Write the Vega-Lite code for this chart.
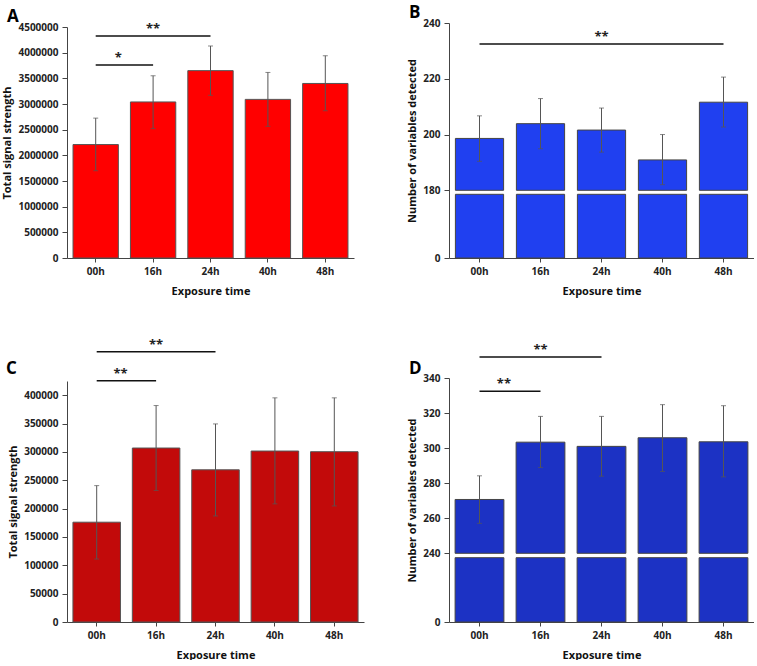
{
  "$schema": "https://vega.github.io/schema/vega-lite/v6.json",
  "padding": {"left": 1, "top": 4, "right": 0, "bottom": 0},
  "background": "white",
  "datasets": {
    "a": [
      {"t": "00h", "v": 2210000, "lo": 1700000, "hi": 2725000},
      {"t": "16h", "v": 3040000, "lo": 2520000, "hi": 3550000},
      {"t": "24h", "v": 3650000, "lo": 3170000, "hi": 4130000},
      {"t": "40h", "v": 3090000, "lo": 2565000, "hi": 3615000},
      {"t": "48h", "v": 3400000, "lo": 2870000, "hi": 3940000}
    ],
    "sa": [
      {"x1": "00h", "x2": "16h", "y": 3760000, "s": "*", "edge": "00h"},
      {"x1": "00h", "x2": "24h", "y": 4325000, "s": "**", "mid": "16h"}
    ],
    "b": [
      {"t": "00h", "v": 198.6, "lo": 190.4, "hi": 206.7},
      {"t": "16h", "v": 203.9, "lo": 194.9, "hi": 212.9},
      {"t": "24h", "v": 201.6, "lo": 193.7, "hi": 209.5},
      {"t": "40h", "v": 190.9, "lo": 182.0, "hi": 200.0},
      {"t": "48h", "v": 211.6, "lo": 202.7, "hi": 220.6}
    ],
    "sb": [
      {"x1": "00h", "x2": "48h", "y": 232.5, "s": "**", "mid": "24h"}
    ],
    "c": [
      {"t": "00h", "v": 176000, "lo": 111000, "hi": 240500},
      {"t": "16h", "v": 306800, "lo": 232000, "hi": 381700},
      {"t": "24h", "v": 268400, "lo": 187000, "hi": 349300},
      {"t": "40h", "v": 301500, "lo": 208300, "hi": 395300},
      {"t": "48h", "v": 300300, "lo": 204700, "hi": 395300}
    ],
    "sc": [
      {"x1": "00h", "x2": "16h", "y": 425400, "s": "**", "edge": "00h"},
      {"x1": "00h", "x2": "24h", "y": 476700, "s": "**", "mid": "16h"}
    ],
    "d": [
      {"t": "00h", "v": 270.7, "lo": 257.1, "hi": 284.2},
      {"t": "16h", "v": 303.4, "lo": 289.0, "hi": 318.1},
      {"t": "24h", "v": 301.0, "lo": 284.0, "hi": 318.1},
      {"t": "40h", "v": 305.9, "lo": 286.7, "hi": 324.8},
      {"t": "48h", "v": 303.6, "lo": 283.6, "hi": 324.2}
    ],
    "sd": [
      {"x1": "00h", "x2": "16h", "y": 332.4, "s": "**", "edge": "00h"},
      {"x1": "00h", "x2": "24h", "y": 352, "s": "**", "mid": "16h"}
    ]
  },
  "columns": 2,
  "bounds": "flush",
  "spacing": {"row": 120, "column": 85},
  "concat": [
    {
      "width": 287, "height": 235,
      "title": {"text": "A", "dx": -60, "dy": 8},
      "layer": [
        {
          "data": {"name": "a"},
          "mark": {"type": "bar", "fill": "#ff0000", "stroke": "#555555", "strokeWidth": 1},
          "encoding": {
            "x": {"field": "t", "type": "nominal", "title": "Exposure time", "scale": {"domain": ["00h", "16h", "24h", "40h", "48h"], "paddingInner": 0.21, "paddingOuter": 0.105}},
            "y": {"field": "v", "type": "quantitative", "title": "Total signal strength",
              "scale": {"domain": [0, 4500000], "range": [235, 4], "nice": false, "zero": false},
              "axis": {"tickCount": 9, "format": "d", "labelOverlap": false}}
          }
        },
        {
          "data": {"name": "a"},
          "mark": {"type": "errorbar", "color": "#555555", "thickness": 1, "ticks": {"size": 5, "color": "#555555"}},
          "encoding": {
            "x": {"field": "t", "type": "nominal", "title": "Exposure time"},
            "y": {"field": "lo", "type": "quantitative", "title": "Total signal strength"},
            "y2": {"field": "hi"}
          }
        },
        {
          "data": {"name": "sa"},
          "mark": {"type": "rule", "color": "#111111", "strokeWidth": 1.5},
          "encoding": {
            "x": {"field": "x1", "type": "nominal", "title": "Exposure time"},
            "x2": {"field": "x2"},
            "y": {"field": "y", "type": "quantitative", "title": "Total signal strength"}
          }
        },
        {
          "data": {"name": "sa"},
          "transform": [{"filter": "datum.mid != null"}],
          "mark": {"type": "text", "font": "Open Sans", "fontSize": 13, "fontWeight": "bold", "color": "#222222", "baseline": "alphabetic", "dy": -3},
          "encoding": {
            "x": {"field": "mid", "type": "nominal", "title": "Exposure time"},
            "y": {"field": "y", "type": "quantitative", "title": "Total signal strength"},
            "text": {"field": "s"}
          }
        },
        {
          "data": {"name": "sa"},
          "transform": [{"filter": "datum.edge != null"}],
          "mark": {"type": "text", "font": "Open Sans", "fontSize": 13, "fontWeight": "bold", "color": "#222222", "baseline": "alphabetic", "dy": -3},
          "encoding": {
            "x": {"field": "edge", "type": "nominal", "bandPosition": 1, "title": "Exposure time"},
            "y": {"field": "y", "type": "quantitative", "title": "Total signal strength"},
            "text": {"field": "s"}
          }
        }
      ]
    },
    {
      "width": 305, "height": 235,
      "title": {"text": "B", "dx": -40, "dy": 8},
      "layer": [
        {
          "data": {"name": "b"},
          "mark": {"type": "bar", "fill": "#2040f0", "stroke": "#444444", "strokeWidth": 1},
          "encoding": {
            "x": {"field": "t", "type": "nominal", "title": "Exposure time", "scale": {"domain": ["00h", "16h", "24h", "40h", "48h"], "paddingInner": 0.21, "paddingOuter": 0.105}},
            "y": {"field": "v", "type": "quantitative", "title": "Number of variables detected",
              "scale": {"domain": [0, 170, 180, 240], "range": [235, 171.3, 167.3, 0], "nice": false, "zero": false},
              "axis": {"values": [0, 85, 180, 190, 200, 210, 220, 230, 240], "labelOverlap": false,
                "labelExpr": "(datum.value === 0 || (datum.value >= 180 && datum.value % 20 === 0)) ? datum.label : ''"}},
            "y2": {"datum": 180}
          }
        },
        {
          "data": {"name": "b"},
          "mark": {"type": "bar", "fill": "#2040f0", "stroke": "#444444", "strokeWidth": 1},
          "encoding": {
            "x": {"field": "t", "type": "nominal", "title": "Exposure time"},
            "y": {"datum": 170, "type": "quantitative", "title": "Number of variables detected"},
            "y2": {"datum": 0}
          }
        },
        {
          "data": {"name": "b"},
          "mark": {"type": "errorbar", "color": "#555555", "thickness": 1, "ticks": {"size": 5, "color": "#555555"}},
          "encoding": {
            "x": {"field": "t", "type": "nominal", "title": "Exposure time"},
            "y": {"field": "lo", "type": "quantitative", "title": "Number of variables detected"},
            "y2": {"field": "hi"}
          }
        },
        {
          "data": {"name": "sb"},
          "mark": {"type": "rule", "color": "#111111", "strokeWidth": 1.5},
          "encoding": {
            "x": {"field": "x1", "type": "nominal", "title": "Exposure time"},
            "x2": {"field": "x2"},
            "y": {"field": "y", "type": "quantitative", "title": "Number of variables detected"}
          }
        },
        {
          "data": {"name": "sb"},
          "mark": {"type": "text", "font": "Open Sans", "fontSize": 13, "fontWeight": "bold", "color": "#222222", "baseline": "alphabetic", "dy": -3},
          "encoding": {
            "x": {"field": "mid", "type": "nominal", "title": "Exposure time"},
            "y": {"field": "y", "type": "quantitative", "title": "Number of variables detected"},
            "text": {"field": "s"}
          }
        }
      ]
    },
    {
      "width": 297, "height": 244,
      "title": {"text": "C", "dx": -61, "dy": 43},
      "layer": [
        {
          "data": {"name": "c"},
          "mark": {"type": "bar", "fill": "#c20a0a", "stroke": "#555555", "strokeWidth": 1},
          "encoding": {
            "x": {"field": "t", "type": "nominal", "title": "Exposure time", "scale": {"domain": ["00h", "16h", "24h", "40h", "48h"], "paddingInner": 0.2, "paddingOuter": 0.1}},
            "y": {"field": "v", "type": "quantitative", "title": "Total signal strength",
              "scale": {"domain": [0, 425000], "range": [244, 3], "nice": false, "zero": false},
              "axis": {"tickCount": 9, "format": "d", "labelOverlap": false}}
          }
        },
        {
          "data": {"name": "c"},
          "mark": {"type": "errorbar", "color": "#555555", "thickness": 1, "ticks": {"size": 5, "color": "#555555"}},
          "encoding": {
            "x": {"field": "t", "type": "nominal", "title": "Exposure time"},
            "y": {"field": "lo", "type": "quantitative", "title": "Total signal strength"},
            "y2": {"field": "hi"}
          }
        },
        {
          "data": {"name": "sc"},
          "mark": {"type": "rule", "color": "#111111", "strokeWidth": 1.5},
          "encoding": {
            "x": {"field": "x1", "type": "nominal", "title": "Exposure time"},
            "x2": {"field": "x2"},
            "y": {"field": "y", "type": "quantitative", "title": "Total signal strength"}
          }
        },
        {
          "data": {"name": "sc"},
          "transform": [{"filter": "datum.mid != null"}],
          "mark": {"type": "text", "font": "Open Sans", "fontSize": 13, "fontWeight": "bold", "color": "#222222", "baseline": "alphabetic", "dy": -3},
          "encoding": {
            "x": {"field": "mid", "type": "nominal", "title": "Exposure time"},
            "y": {"field": "y", "type": "quantitative", "title": "Total signal strength"},
            "text": {"field": "s"}
          }
        },
        {
          "data": {"name": "sc"},
          "transform": [{"filter": "datum.edge != null"}],
          "mark": {"type": "text", "font": "Open Sans", "fontSize": 13, "fontWeight": "bold", "color": "#222222", "baseline": "alphabetic", "dy": -3},
          "encoding": {
            "x": {"field": "edge", "type": "nominal", "bandPosition": 1, "title": "Exposure time"},
            "y": {"field": "y", "type": "quantitative", "title": "Total signal strength"},
            "text": {"field": "s"}
          }
        }
      ]
    },
    {
      "width": 305, "height": 244,
      "title": {"text": "D", "dx": -40, "dy": 38},
      "layer": [
        {
          "data": {"name": "d"},
          "mark": {"type": "bar", "fill": "#1c32c4", "stroke": "#444444", "strokeWidth": 1},
          "encoding": {
            "x": {"field": "t", "type": "nominal", "title": "Exposure time", "scale": {"domain": ["00h", "16h", "24h", "40h", "48h"], "paddingInner": 0.2, "paddingOuter": 0.1}},
            "y": {"field": "v", "type": "quantitative", "title": "Number of variables detected",
              "scale": {"domain": [0, 230, 240, 340], "range": [244, 179.7, 175.3, 0], "nice": false, "zero": false},
              "axis": {"values": [0, 115, 240, 250, 260, 270, 280, 290, 300, 310, 320, 330, 340], "labelOverlap": false,
                "labelExpr": "(datum.value === 0 || (datum.value >= 240 && datum.value % 20 === 0)) ? datum.label : ''"}},
            "y2": {"datum": 240}
          }
        },
        {
          "data": {"name": "d"},
          "mark": {"type": "bar", "fill": "#1c32c4", "stroke": "#444444", "strokeWidth": 1},
          "encoding": {
            "x": {"field": "t", "type": "nominal", "title": "Exposure time"},
            "y": {"datum": 230, "type": "quantitative", "title": "Number of variables detected"},
            "y2": {"datum": 0}
          }
        },
        {
          "data": {"name": "d"},
          "mark": {"type": "errorbar", "color": "#555555", "thickness": 1, "ticks": {"size": 5, "color": "#555555"}},
          "encoding": {
            "x": {"field": "t", "type": "nominal", "title": "Exposure time"},
            "y": {"field": "lo", "type": "quantitative", "title": "Number of variables detected"},
            "y2": {"field": "hi"}
          }
        },
        {
          "data": {"name": "sd"},
          "mark": {"type": "rule", "color": "#111111", "strokeWidth": 1.5},
          "encoding": {
            "x": {"field": "x1", "type": "nominal", "title": "Exposure time"},
            "x2": {"field": "x2"},
            "y": {"field": "y", "type": "quantitative", "title": "Number of variables detected"}
          }
        },
        {
          "data": {"name": "sd"},
          "transform": [{"filter": "datum.mid != null"}],
          "mark": {"type": "text", "font": "Open Sans", "fontSize": 13, "fontWeight": "bold", "color": "#222222", "baseline": "alphabetic", "dy": -3},
          "encoding": {
            "x": {"field": "mid", "type": "nominal", "title": "Exposure time"},
            "y": {"field": "y", "type": "quantitative", "title": "Number of variables detected"},
            "text": {"field": "s"}
          }
        },
        {
          "data": {"name": "sd"},
          "transform": [{"filter": "datum.edge != null"}],
          "mark": {"type": "text", "font": "Open Sans", "fontSize": 13, "fontWeight": "bold", "color": "#222222", "baseline": "alphabetic", "dy": -3},
          "encoding": {
            "x": {"field": "edge", "type": "nominal", "bandPosition": 1, "title": "Exposure time"},
            "y": {"field": "y", "type": "quantitative", "title": "Number of variables detected"},
            "text": {"field": "s"}
          }
        }
      ]
    }
  ],
  "config": {
    "view": {"stroke": null},
    "axis": {
      "labelFont": "Open Sans", "labelFontWeight": "bold", "labelFontSize": 10, "labelColor": "#222222",
      "titleFont": "Open Sans", "titleFontWeight": "bold", "titleFontSize": 11, "titleColor": "#111111",
      "domainColor": "#444444", "tickColor": "#444444", "grid": false, "tickSize": 5, "labelPadding": 4, "titlePadding": 5,
      "labelOverlap": false
    },
    "axisX": {"labelAngle": 0, "titleFontSize": 11, "tickSize": 4, "labelPadding": 4, "titlePadding": 9},
    "title": {"anchor": "start", "frame": "group", "font": "Open Sans", "fontSize": 17, "fontWeight": "bold", "color": "#000000", "baseline": "alphabetic", "offset": 0}
  }
}
